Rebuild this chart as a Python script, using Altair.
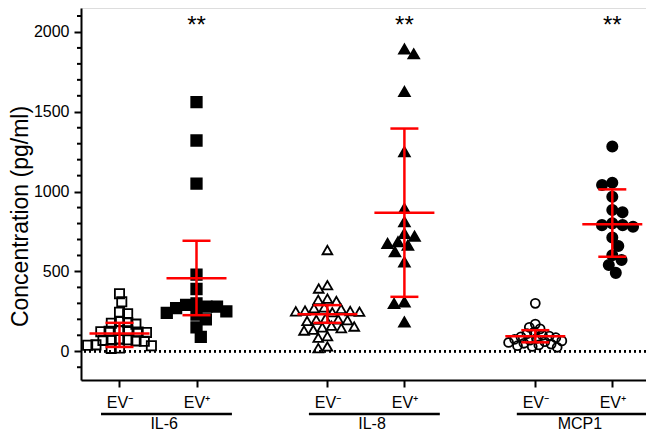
import math
import pandas as pd
import altair as alt

# ---------------- data ----------------
groups = ["IL-6", "IL-8", "MCP1"]
conditions = ["EV⁻", "EV⁺"]

il6_neg = [360, 310, 245, 235, 185, 180, 175, 170, 130, 128, 125, 122, 120, 118,
           75, 72, 70, 68, 65, 62, 40, 38, 35, 20, 18]
il6_pos = [1560, 1320, 1050, 480, 390, 300, 290, 280, 280, 270, 250, 240, 230,
           200, 150, 90]
il8_neg = [634, 414, 393, 330, 322, 315, 275, 270, 265, 255, 252, 250, 248, 245,
           205, 200, 198, 195, 190, 160, 155, 150, 145, 135, 130, 95, 85, 30, 20]
il8_pos = [1893, 1863, 1627, 1250, 895, 811, 738, 721, 686, 665, 676, 623, 560,
           309, 299, 184]
mcp1_neg = [300, 170, 150, 140, 120, 110, 100, 95, 90, 85, 80, 75, 70, 65, 60,
            55, 50, 45, 40, 35, 30, 25]
mcp1_pos = [1282, 1041, 1056, 968, 870, 885, 780, 790, 801, 790, 713, 659, 602,
            571, 540, 491]

# red error bars (mean, lower, upper) in the order IL-6-, IL-6+, IL-8-, IL-8+, MCP1-, MCP1+
bar_mean = [111, 458, 232, 868, 94, 795]
bar_low = [27, 226, 178, 341, 56, 592]
bar_high = [178, 692, 289, 1395, 132, 1014]
significance = ["", "**", "", "**", "", "**"]

y_major = [0, 500, 1000, 1500, 2000]
y_minor = [-100, 100, 200, 300, 400, 600, 700, 800, 900, 1100, 1200, 1300, 1400,
           1600, 1700, 1800, 1900, 2100]

series = [il6_neg, il6_pos, il8_neg, il8_pos, mcp1_neg, mcp1_pos]

# ---------------- layout ----------------
PLOT_W, PLOT_H = 565, 372
PX_PER_UNIT = 77.0
X_MAX = PLOT_W / PX_PER_UNIT
Y_DOM = [-180, 2150]
PX_PER_VAL = PLOT_H / (Y_DOM[1] - Y_DOM[0])
GROUP_STEP = 2.7
SWARM_D = [8.3, 10.5, 9.3, 10.5, 6.8, 10.5]


def center(g, c):
    return g * GROUP_STEP + c + 0.5


def swarm(values, diam):
    """simple beeswarm: horizontal pixel offsets avoiding overlaps"""
    order = sorted(range(len(values)), key=lambda i: -values[i])
    placed = []
    offs = [0.0] * len(values)
    flip = 1
    for i in order:
        y = values[i] * PX_PER_VAL
        blocks, cands = [], [0.0]
        for xj, yj in placed:
            dy = abs(y - yj)
            if dy < diam:
                w = math.sqrt(diam * diam - dy * dy)
                blocks.append((xj - w, xj + w))
                cands += [xj - w, xj + w]
        ok = [c for c in cands if all(not (a + 1e-6 < c < b - 1e-6) for a, b in blocks)]
        best = min(ok, key=lambda c: (round(abs(c), 4), flip * c))
        flip = -flip
        offs[i] = best
        placed.append((best, y))
    return offs


shape_of = {0: "square", 1: "triangle-up", 2: "circle"}
size_of = {(0, 0): 85, (0, 1): 110, (1, 0): 95, (1, 1): 115, (2, 0): 80, (2, 1): 105}

rows = []
for k, vals in enumerate(series):
    g, c = divmod(k, 2)
    offs = swarm(vals, SWARM_D[k])
    for v, o in zip(vals, offs):
        rows.append({
            "value": v,
            "x": center(g, c) + o / PX_PER_UNIT,
            "shape": shape_of[g],
            "fo": 1.0 if c == 1 else 0.0,
            "sz": size_of[(g, c)],
        })
pts = pd.DataFrame(rows)

bars = []
for k in range(6):
    g, c = divmod(k, 2)
    p = center(g, c)
    bars.append({
        "x": p, "mean": bar_mean[k], "low": bar_low[k], "high": bar_high[k],
        "mlo": p - 30 / PX_PER_UNIT, "mhi": p + 30 / PX_PER_UNIT,
        "clo": p - 14 / PX_PER_UNIT, "chi": p + 14 / PX_PER_UNIT,
        "sig": significance[k],
    })
bars = pd.DataFrame(bars)

grp = pd.DataFrame({
    "group": groups,
    "lo": [g * GROUP_STEP + 0.26 for g in range(3)],
    "hi": [g * GROUP_STEP + 1.96 for g in range(3)],
    "lab": [g * GROUP_STEP + 1.08 for g in range(3)],
})
minor = pd.DataFrame({"v": y_minor})

FONT = "Liberation Sans, Arial, Helvetica, sans-serif"
RED = "#ff0000"

xscale = alt.Scale(domain=[0, X_MAX], nice=False, zero=False)
yscale = alt.Scale(domain=Y_DOM, nice=False, zero=False)
tick_vals = [center(g, c) for g in range(3) for c in range(2)]

x_axis = alt.Axis(
    values=tick_vals, title=None, grid=False, tickSize=7, tickWidth=2,
    tickColor="black", domainColor="black", domainWidth=2,
    labelExpr="round((datum.value-0.5)*10) % 27 < 5 ? 'EV⁻' : 'EV⁺'",
    labelFontSize=16, labelFont=FONT, labelColor="black", labelPadding=7,
    labelFlush=False, labelOverlap=False,
)
y_axis = alt.Axis(
    values=y_major, format="d",
    grid=False, tickWidth=2, tickColor="black", domainColor="black", domainWidth=2,
    tickSize=7, labelFontSize=16, labelFont=FONT, labelColor="black", labelPadding=5,
    labelOverlap=False, labelFlush=False,
    title="Concentration (pg/ml)", titleFont=FONT, titleFontSize=23,
    titleFontWeight="normal", titleColor="black", titleAngle=270,
    titleX=-54, titleY=208, titleAlign="center", titleBaseline="alphabetic",
)

points = alt.Chart(pts).mark_point(filled=True, color="black", stroke="black",
                                   strokeWidth=1.8, opacity=1).encode(
    x=alt.X("x:Q", scale=xscale, axis=x_axis),
    y=alt.Y("value:Q", scale=yscale, axis=y_axis),
    shape=alt.Shape("shape:N", scale=alt.Scale(domain=["square", "triangle-up", "circle"],
                                                range=["square", "triangle-up", "circle"]),
                    legend=None),
    fillOpacity=alt.FillOpacity("fo:Q", scale=None),
    size=alt.Size("sz:Q", scale=None),
)

minor_ticks = alt.Chart(minor).mark_rule(color="black", strokeWidth=2).encode(
    y=alt.Y("v:Q", scale=yscale), x=alt.value(-4), x2=alt.value(0))

zero = alt.Chart(bars).mark_rule(color="black", strokeWidth=2, strokeDash=[2, 3]).encode(
    y=alt.YDatum(0, scale=yscale)
)

bb = alt.Chart(bars)
vline = bb.mark_rule(color=RED, strokeWidth=2.5).encode(
    x=alt.X("x:Q", scale=xscale), y=alt.Y("low:Q", scale=yscale), y2="high:Q")
mline = bb.mark_rule(color=RED, strokeWidth=2.5).encode(
    x=alt.X("mlo:Q", scale=xscale), x2="mhi:Q", y=alt.Y("mean:Q", scale=yscale))
cap_lo = bb.mark_rule(color=RED, strokeWidth=2.5).encode(
    x=alt.X("clo:Q", scale=xscale), x2="chi:Q", y=alt.Y("low:Q", scale=yscale))
cap_hi = bb.mark_rule(color=RED, strokeWidth=2.5).encode(
    x=alt.X("clo:Q", scale=xscale), x2="chi:Q", y=alt.Y("high:Q", scale=yscale))
stars = bb.mark_text(fontSize=24, font=FONT, color="black", baseline="alphabetic").encode(
    x=alt.X("x:Q", scale=xscale), y=alt.value(25), text="sig:N")

gg = alt.Chart(grp)
underline = gg.mark_rule(color="black", strokeWidth=2.5).encode(
    x=alt.X("lo:Q", scale=xscale), x2="hi:Q", y=alt.value(406))
glabel = gg.mark_text(fontSize=16, font=FONT, color="black", baseline="alphabetic").encode(
    x=alt.X("lab:Q", scale=xscale), y=alt.value(421), text="group:N")

chart = alt.layer(zero, minor_ticks, points, vline, mline, cap_lo, cap_hi, stars,
                  underline, glabel).properties(
    width=PLOT_W, height=PLOT_H,
    autosize=alt.AutoSizeParams(type="none"),
    padding={"left": 73, "top": 0, "right": 0, "bottom": 54},
).configure_view(stroke=None).configure(background="white")

chart.save("out.html", embed_options={"renderer": "svg", "actions": False})
